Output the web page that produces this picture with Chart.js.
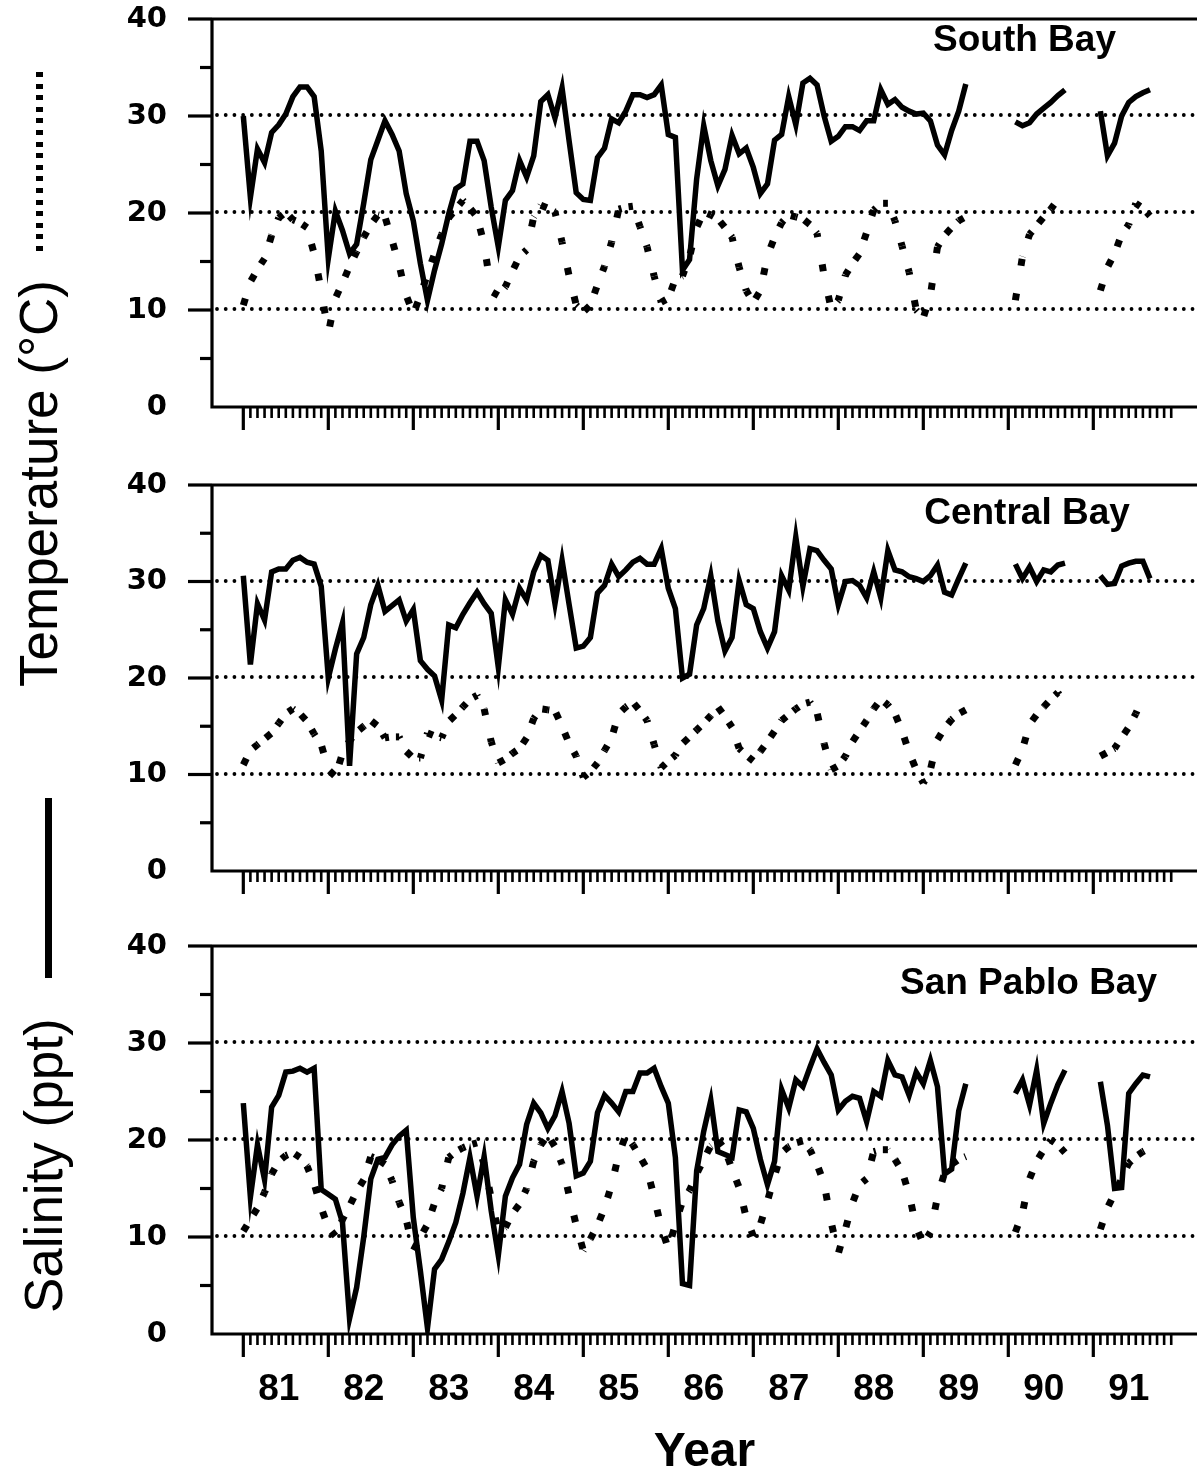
<!DOCTYPE html>
<html>
<head>
<meta charset="utf-8">
<script src="https://cdn.jsdelivr.net/npm/chart.js@4.4.1/dist/chart.umd.min.js"></script>
<style>
html,body{margin:0;padding:0;background:#fff;overflow:hidden;width:1197px;height:1475px;}
canvas{position:absolute;left:0;}
.ttl{position:absolute;font-family:"Liberation Sans",Arial,sans-serif;font-weight:bold;font-size:37px;line-height:37px;white-space:nowrap;transform:translateX(-50%);color:#000;}
.ylab{position:absolute;font-family:"Liberation Sans",Arial,sans-serif;font-size:53px;line-height:53px;white-space:nowrap;transform-origin:0 0;transform:rotate(-90deg);color:#000;}
.sample{position:absolute;}
</style>
</head>
<body>
<canvas id="c1"></canvas>
<canvas id="c2"></canvas>
<canvas id="c3"></canvas>
<div class="ttl" id="t1">South Bay</div>
<div class="ttl" id="t2">Central Bay</div>
<div class="ttl" id="t3">San Pablo Bay</div>
<div class="ylab" id="ytemp">Temperature (°C)</div>
<div class="ylab" id="ysal">Salinity (ppt)</div>
<div class="sample" id="sdot"></div>
<div class="sample" id="sline"></div>
<script>
// ---------- DATA (monthly, index 0 = January 1981) ----------
const YEAR_LABELS = ['81','82','83','84','85','86','87','88','89','90','91'];
const YEAR_LABEL_MONTH = [5,17,29,41,53,65,77,89,101,113,125];
const GRID_VALUES = [10,20,30];
const N_MONTHS = 132;

const SB_SALINITY = [
30.0,21.6,26.6,25.2,28.3,29.1,30.2,32.0,33.0,33.0,
32.0,26.4,15.3,20.2,18.2,15.8,16.8,21.0,25.5,27.5,
29.5,28.1,26.4,22.0,19.2,14.8,11.0,14.1,16.8,19.9,
22.5,23.0,27.4,27.4,25.4,20.6,16.5,21.3,22.3,25.4,
23.7,25.9,31.5,32.2,29.8,32.9,27.4,22.1,21.4,21.3,
25.7,26.7,29.7,29.3,30.5,32.2,32.2,31.9,32.2,33.2,
28.1,27.8,14.1,15.2,23.5,29.0,25.4,22.8,24.5,28.0,
26.1,26.7,24.7,22.0,23.0,27.5,28.1,32.0,29.1,33.4,
33.9,33.2,30.0,27.4,27.9,28.9,28.9,28.5,29.5,29.5,
32.7,31.2,31.7,30.9,30.5,30.2,30.3,29.5,27.0,26.0,
28.5,30.5,33.3,null,null,null,null,null,null,29.4,
29.0,29.3,30.2,30.8,31.4,32.1,32.7,null,null,null,
null,30.5,25.9,27.2,30.0,31.4,32.0,32.4,32.7
];
const SB_TEMPERATURE = [
10.5,12.9,14.2,15.3,17.7,19.5,20.1,19.3,19.0,18.5,
15.8,12.0,7.6,11.2,12.8,14.5,16.0,17.5,18.8,19.8,
19.6,17.2,14.6,11.5,9.6,11.5,13.7,15.8,17.8,19.5,
20.4,21.3,20.5,19.6,16.8,11.9,11.5,12.4,14.0,15.5,
16.2,19.6,20.8,20.5,20.1,17.0,13.5,10.5,9.8,10.5,
12.6,14.5,17.0,20.4,20.6,20.7,18.6,16.5,13.5,10.8,
11.2,13.2,13.5,15.5,18.5,20.1,19.8,19.4,18.5,17.5,
14.4,12.0,10.8,12.0,15.6,17.5,19.0,19.8,19.6,19.4,
18.8,17.9,13.5,10.1,11.0,13.6,14.8,15.8,18.0,20.3,
21.0,21.0,19.2,16.6,13.9,10.0,9.2,11.5,16.5,17.7,
18.5,19.2,19.6,null,null,null,null,null,null,11.0,
15.5,17.8,18.7,19.6,20.4,21.4,null,null,null,null,
null,12.0,14.4,15.8,17.8,18.8,21.0,20.5,19.7
];
const CB_SALINITY = [
30.6,21.4,27.7,26.0,31.0,31.3,31.3,32.2,32.5,32.0,
31.8,29.5,20.0,23.0,25.7,10.9,22.5,24.2,27.6,29.6,
26.9,27.5,28.1,25.9,27.1,21.8,20.9,20.2,17.7,25.5,
25.2,26.6,27.8,28.9,27.7,26.7,21.1,28.1,26.6,29.3,
28.1,31.0,32.7,32.2,27.7,32.2,27.6,23.1,23.3,24.2,
28.8,29.6,31.8,30.5,31.2,32.0,32.4,31.8,31.8,33.4,
29.3,27.2,20.0,20.4,25.5,27.2,30.6,25.9,22.8,24.2,
30.1,27.6,27.2,24.8,23.1,24.8,30.6,29.1,34.6,29.5,
33.4,33.2,32.2,31.3,27.6,30.0,30.1,29.6,28.3,31.0,
28.3,33.2,31.2,31.0,30.5,30.3,30.0,30.6,31.7,28.9,
28.6,30.3,31.9,null,null,null,null,null,null,31.8,
30.3,31.5,30.0,31.2,31.0,31.7,31.9,null,null,null,
null,30.6,29.7,29.8,31.6,31.9,32.1,32.1,30.3
];
const CB_TEMPERATURE = [
11.0,12.5,13.1,13.7,14.3,15.3,16.3,16.8,16.3,15.5,
14.2,13.1,10.5,9.8,12.2,13.5,14.4,15.0,15.6,15.0,
13.8,13.9,13.9,12.4,11.7,11.7,14.3,14.0,13.8,15.5,
16.2,17.0,17.8,18.2,16.8,13.4,11.2,11.6,12.2,12.7,
13.8,15.8,16.8,16.7,16.6,15.0,13.2,11.9,9.7,10.3,
11.2,12.5,13.8,16.3,17.0,17.5,16.6,15.6,13.1,10.7,
11.4,12.0,13.2,13.9,14.6,15.3,16.1,17.0,16.0,14.9,
12.7,12.0,11.4,12.4,13.4,14.5,15.6,16.2,16.8,17.3,
17.5,16.4,13.2,10.5,10.9,11.9,13.4,14.5,15.6,16.8,
17.8,17.2,16.3,14.5,12.3,10.5,9.1,10.5,13.6,14.8,
15.7,16.3,16.7,null,null,null,null,null,null,11.0,
12.6,15.2,16.2,17.0,17.8,18.5,17.2,null,null,null,
null,11.9,12.3,12.7,13.8,14.9,16.3,18.0,null
];
const SP_SALINITY = [
23.8,14.1,19.5,15.9,23.4,24.6,27.0,27.1,27.4,27.0,
27.4,14.9,14.4,13.9,11.5,1.6,4.8,10.0,16.0,18.0,
18.2,19.5,20.4,21.0,12.0,6.5,0.6,6.7,7.7,9.5,
11.5,14.5,18.2,14.2,18.3,12.7,8.1,14.2,16.1,17.5,
21.6,23.8,22.8,21.2,22.5,25.0,21.7,16.3,16.6,17.8,
22.8,24.6,23.8,22.9,25.0,25.0,26.9,26.9,27.4,25.5,
23.8,18.2,5.2,5.0,16.8,20.9,24.1,18.8,18.5,18.2,
23.1,22.9,21.2,18.0,15.4,17.8,25.2,23.3,26.2,25.5,
27.5,29.4,28.0,26.7,23.1,24.0,24.5,24.3,21.9,25.0,
24.5,28.2,26.7,26.5,24.6,27.0,25.8,28.2,25.5,16.5,
17.0,23.0,25.8,null,null,null,null,null,null,24.8,
26.2,23.6,27.2,21.7,23.8,25.7,27.2,null,null,null,
null,26.0,21.5,15.0,15.1,24.8,25.8,26.7,26.5
];
const SP_TEMPERATURE = [
10.6,11.8,13.0,14.6,16.5,17.8,18.4,18.7,18.2,17.3,
15.5,13.0,11.0,10.1,11.8,13.2,14.7,15.9,18.3,18.0,
17.5,15.8,13.6,11.8,8.6,10.0,11.3,13.5,15.0,18.2,
18.8,19.2,19.5,19.7,17.5,14.0,10.5,11.0,12.4,13.4,
15.0,17.8,19.5,20.5,19.3,17.5,14.3,11.2,8.6,9.8,
11.2,13.0,15.4,18.5,20.5,19.5,18.3,17.0,14.1,11.0,
8.8,11.3,13.7,14.8,16.5,18.0,19.4,20.0,19.0,17.0,
15.1,12.0,10.1,11.3,13.7,16.3,18.7,19.3,19.7,19.9,
19.0,17.5,15.5,11.5,8.3,10.8,13.5,15.4,16.0,18.8,
19.0,19.0,18.0,16.8,14.4,11.0,9.3,10.5,14.1,16.6,
17.5,18.0,18.3,null,null,null,null,null,null,10.5,
12.5,16.0,17.8,19.0,20.0,19.5,18.7,null,null,null,
null,10.8,13.0,14.5,16.0,17.6,18.3,18.8,19.2
];

// ---------- LAYOUT / STYLE ----------
const FONT = '"Liberation Sans", Arial, sans-serif';
const X_MIN = -4.42, X_MAX = 134.64;
const LAYOUT = [
  {canvas:'c1', canvasTop:0,   padTop:19, plotH:388, bottomH:40,  years:false, title:'t1', tx:1024.5, tTop:20},
  {canvas:'c2', canvasTop:455, padTop:30, plotH:386, bottomH:40,  years:false, title:'t2', tx:1027,   tTop:493},
  {canvas:'c3', canvasTop:916, padTop:30, plotH:388, bottomH:166, years:true,  title:'t3', tx:1028.5, tTop:963}
];
const SERIES = [
  [SB_SALINITY, SB_TEMPERATURE],
  [CB_SALINITY, CB_TEMPERATURE],
  [SP_SALINITY, SP_TEMPERATURE]
];

const DOT_PERIOD = 14, DOT_LEN = 7;
const CLEAR = 'rgba(0,0,0,0)';

// dotted style whose spacing grows only mildly on steep parts (like the original plotter)
function pseudoLen(a, b){
  const dx = Math.abs(b.x - a.x), dy = b.y - a.y;
  const L = Math.hypot(dx, dy);
  const f = L / Math.max(dx, 1e-3);
  return dx * Math.sqrt(f);
}
function dotStyle(c){
  const pts = c.chart.getDatasetMeta(c.datasetIndex).data;
  let S0 = 0;
  for (let i = 1; i <= c.p0DataIndex; i++){
    const a = pts[i - 1], b = pts[i];
    if (!a || !b || a.skip || b.skip){ S0 = 0; continue; }
    S0 += pseudoLen(a, b);
  }
  const L = Math.max(Math.hypot(c.p1.x - c.p0.x, c.p1.y - c.p0.y), 1e-3);
  const k = pseudoLen(c.p0, c.p1) / L;
  const periodPath = DOT_PERIOD / Math.max(k, 1e-3);
  const dash = Math.min(DOT_LEN, periodPath * 0.6);
  return {dash:[dash, periodPath - dash], offset:((S0 % DOT_PERIOD) / DOT_PERIOD) * periodPath};
}

const framePlugin = {
  id: 'frame',
  beforeDatasetsDraw(chart){
    const {ctx, chartArea:a, scales:{x, y}} = chart;
    ctx.save();
    ctx.strokeStyle = '#000';
    ctx.lineWidth = 3.8;
    ctx.lineCap = 'round';
    ctx.setLineDash([0.01, 8.7]);
    GRID_VALUES.forEach(v => {
      const py = Math.round(y.getPixelForValue(v)) - 1;
      ctx.beginPath(); ctx.moveTo(a.left + 5, py); ctx.lineTo(a.right, py); ctx.stroke();
    });
    ctx.setLineDash([]);
    ctx.lineCap = 'butt';
    ctx.lineWidth = 3.2;
    ctx.beginPath();
    ctx.moveTo(a.left, a.top); ctx.lineTo(a.left, a.bottom + 1.6);
    ctx.moveTo(a.left - 1.6, a.bottom); ctx.lineTo(a.right, a.bottom);
    ctx.moveTo(a.left, a.top); ctx.lineTo(a.right, a.top);
    ctx.stroke();
    for (let v = 5; v <= 40; v += 5){
      const py = y.getPixelForValue(v);
      const len = v % 10 === 0 ? 24 : 12;
      ctx.beginPath(); ctx.moveTo(a.left - len, py); ctx.lineTo(a.left, py); ctx.stroke();
    }
    for (let m = 0; m < N_MONTHS; m++){
      const px = x.getPixelForValue(m);
      const major = m % 12 === 0;
      ctx.lineWidth = major ? 3.2 : 2.6;
      ctx.beginPath(); ctx.moveTo(px, a.bottom); ctx.lineTo(px, a.bottom + (major ? 23 : 11)); ctx.stroke();
    }
    ctx.restore();
  }
};

function toPoints(arr){ return arr.map((v, i) => ({x: i, y: v})); }

LAYOUT.forEach((L, k) => {
  const cv = document.getElementById(L.canvas);
  cv.width = 1197;
  cv.height = L.padTop + L.plotH + L.bottomH;
  cv.style.top = L.canvasTop + 'px';
  const [sal, temp] = SERIES[k];
  new Chart(cv, {
    type: 'line',
    data: {
      datasets: [
        {label:'Salinity (ppt)', data: toPoints(sal), borderColor:'#000', borderWidth:5.5,
         borderJoinStyle:'miter', pointRadius:0, spanGaps:false, tension:0},
        {label:'Temperature (°C)', data: toPoints(temp), borderColor:'#000', borderWidth:7,
         borderCapStyle:'butt', borderJoinStyle:'miter', pointRadius:0, spanGaps:false, tension:0,
         segment:{
           borderDash: c => dotStyle(c).dash,
           borderDashOffset: c => dotStyle(c).offset
         }}
      ]
    },
    options: {
      responsive:false, animation:false, devicePixelRatio:1,
      layout:{padding:{top:L.padTop, left:0, right:0, bottom:0}},
      plugins:{legend:{display:false}, tooltip:{enabled:false}, title:{display:false}},
      scales:{
        x:{
          type:'linear', min:X_MIN, max:X_MAX,
          grid:{display:true, drawOnChartArea:false, drawTicks:true, tickLength:34, color:CLEAR, tickColor:CLEAR},
          border:{display:false},
          afterBuildTicks: ax => { ax.ticks = YEAR_LABEL_MONTH.map(v => ({value:v})); },
          ticks:{display:L.years, autoSkip:false, maxRotation:0, minRotation:0, padding:0, color:'#000',
                 font:{family:FONT, weight:'bold', size:37},
                 callback: v => YEAR_LABELS[YEAR_LABEL_MONTH.indexOf(v)] || ''},
          title:{display:L.years, text:'Year', color:'#000', font:{family:FONT, weight:'bold', size:48},
                 padding:{top:0, bottom:18}},
          afterFit: ax => { ax.height = L.bottomH; }
        },
        y:{
          type:'linear', min:0, max:40,
          grid:{display:true, drawOnChartArea:false, drawTicks:true, tickLength:45, color:CLEAR, tickColor:CLEAR},
          border:{display:false},
          ticks:{stepSize:5, autoSkip:false, padding:0, color:'#000',
                 font:{family:'"DejaVu Sans", sans-serif', weight:'bold', size:29},
                 callback: v => (v % 10 === 0 ? String(v) : '')},
          afterFit: ax => { ax.width = 212; }
        }
      }
    },
    plugins:[framePlugin]
  });
  const t = document.getElementById(L.title);
  t.style.left = L.tx + 'px';
  t.style.top = L.tTop + 'px';
});

const yt = document.getElementById('ytemp');
yt.style.left = '12px'; yt.style.top = '687px';
const ys = document.getElementById('ysal');
ys.style.left = '17px'; ys.style.top = '1313px';
const sd = document.getElementById('sdot');
Object.assign(sd.style, {left:'36px', top:'72px', width:'7px', height:'181px',
  background:'repeating-linear-gradient(to bottom, #000 0px, #000 5px, transparent 5px, transparent 11.6px)'});
const sl = document.getElementById('sline');
Object.assign(sl.style, {left:'45px', top:'798px', width:'7px', height:'180px', background:'#000'});
</script>
</body>
</html>
